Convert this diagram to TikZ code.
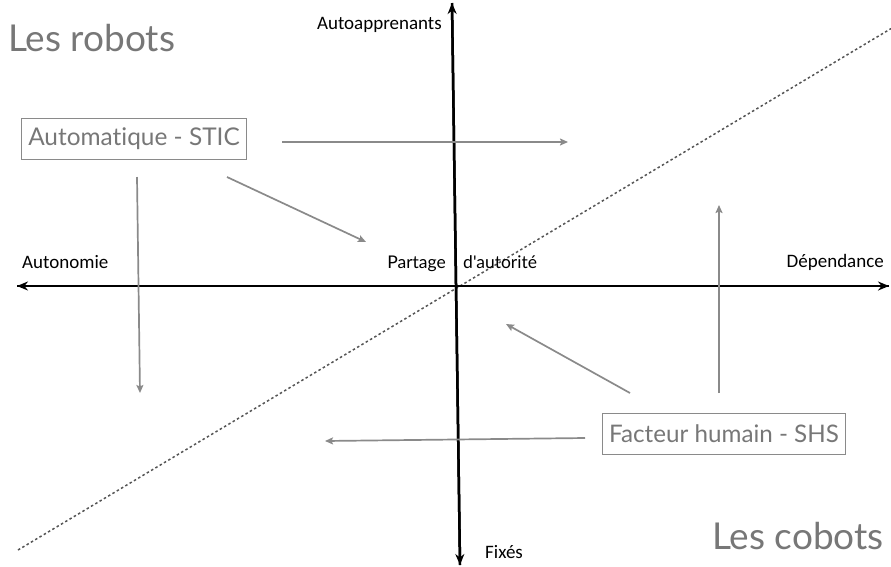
\documentclass[tikz,border=0pt]{standalone}
\usepackage{fontspec}
\setmainfont{Carlito}
\newfontfamily\gill[Ligatures=CommonOff]{Lato}
\usetikzlibrary{arrows.meta}
\definecolor{tgray}{HTML}{777777}
\definecolor{agray}{HTML}{8A8A8A}
\definecolor{dgray}{HTML}{555555}
\begin{document}
\begin{tikzpicture}[x=1pt,y=-1pt,
  axis/.style={line width=2.5pt,black,-{Stealth[length=11pt,width=9pt]}},
  garrow/.style={line width=1.7pt,agray,-{Stealth[length=8pt,width=7pt,inset=1.5pt]}},
  title/.style={font=\gill\fontsize{37}{40}\selectfont,text=tgray,inner sep=0pt},
  boxlab/.style={draw=agray,line width=0.9pt,text=tgray,inner xsep=7pt,inner ysep=0pt,minimum height=41pt},
  axlab/.style={font=\fontsize{19}{21}\selectfont,inner sep=0pt},
  midlab/.style={font=\gill\fontsize{17.5}{19}\selectfont,inner sep=0pt}]
\useasboundingbox (0,0) rectangle (891,566);
% axes
\coordinate (xl) at (17,286);
\coordinate (xr) at (889,286);
\coordinate (yt) at (452,3);
\coordinate (yb) at (460,565);
\draw[line width=1.5pt,dgray,dash pattern=on 2.5pt off 2.5pt] (18,550) -- (891,28.6);
\draw[axis] (xr) -- (xl);
\draw[axis] (xl) -- (xr);
\draw[axis] (yb) -- (yt);
\draw[axis] (yt) -- (yb);
% labels
\node[title,anchor=west] (robots) at (8,38) {Les robots};
\node[title,anchor=east] (cobots) at (884,536) {Les cobots};
\node[boxlab,font=\gill\fontsize{24.4}{26}\selectfont] (stic) at (134,139) {Automatique - STIC};
\node[boxlab,font=\gill\fontsize{24.2}{26}\selectfont] (shs) at (724,434) {Facteur humain - SHS};
\node[axlab,anchor=east] (autoapp) at (442,25) {Autoapprenants};
\node[axlab,anchor=west] (auton) at (22,262) {Autonomie};
\node[axlab,anchor=east] (dep) at (884,262) {Dépendance};
\node[axlab,anchor=west] (fixes) at (485,552) {Fixés};
\node[midlab,anchor=base east] (partage) at (446,268) {Partage};
\node[midlab,anchor=base west] (dauto) at (463,268) {d'autorité};
% gray arrows
\coordinate (a1s) at (282,142); \coordinate (a1e) at (568,142);
\coordinate (a2s) at (227,177); \coordinate (a2e) at (366,242);
\coordinate (a3s) at (137,177); \coordinate (a3e) at (140,393);
\coordinate (a4s) at (719,393); \coordinate (a4e) at (719,205);
\coordinate (a5s) at (630,393); \coordinate (a5e) at (506,324);
\coordinate (a6s) at (585,438); \coordinate (a6e) at (325,441);
\draw[garrow] (a1s) -- (a1e);
\draw[garrow] (a2s) -- (a2e);
\draw[garrow] (a3s) -- (a3e);
\draw[garrow] (a4s) -- (a4e);
\draw[garrow] (a5s) -- (a5e);
\draw[garrow] (a6s) -- (a6e);
\end{tikzpicture}
\end{document}
